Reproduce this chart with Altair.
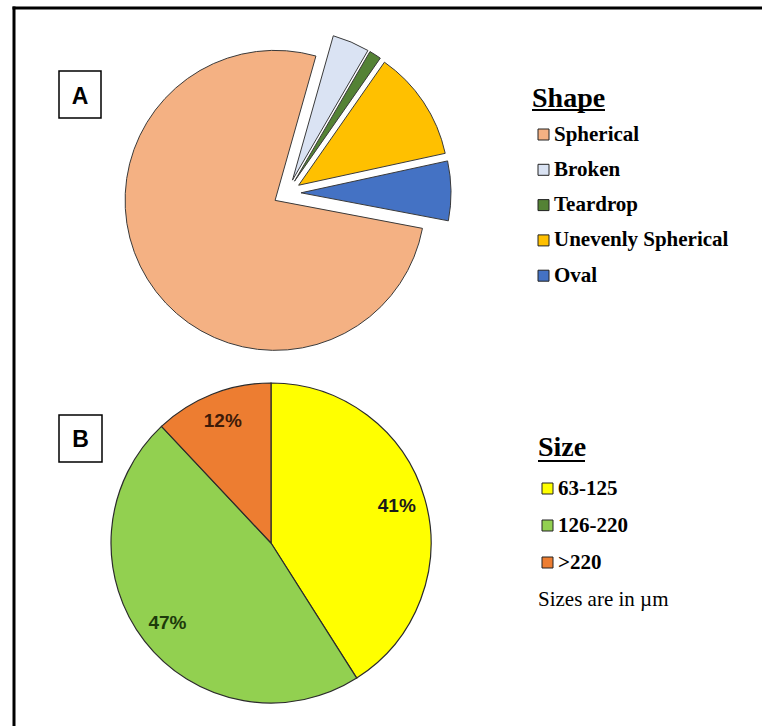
import math
import altair as alt
import pandas as pd

# ---- Data ----
shape_names = ["Broken", "Teardrop", "Unevenly Spherical", "Oval", "Spherical"]  # clockwise from the top
shape_pct = [4.0, 1.3, 11.9, 6.4, 76.4]
shape_legend_order = ["Spherical", "Broken", "Teardrop", "Unevenly Spherical", "Oval"]
shape_colors = ["#F4B183", "#DAE3F3", "#548235", "#FFC000", "#4472C4"]

size_names = ["63-125", "126-220", ">220"]
size_pct = [41, 47, 12]
size_labels = ["41%", "47%", "12%"]
size_colors = ["#FFFF00", "#92D050", "#ED7D31"]
size_text_colors = ["#1a1a1a", "#1d3a0b", "#3d1a08"]

shapes_df = pd.DataFrame({"shape": shape_names, "pct": shape_pct, "order": list(range(len(shape_names)))})
sizes_df = pd.DataFrame({"size": size_names, "pct": size_pct, "label": size_labels,
                         "order": list(range(len(size_names)))})

SERIF = "Liberation Serif"
SANS = "Liberation Sans"

A_CX, A_CY, A_R = 287, 193, 150
A_START = math.radians(15.8)
EXPLODE = 14
B_CX, B_CY, B_R = 271, 543, 160
B_LABEL_R = 131


def polar(chart, start):
    return (chart.transform_window(cum="sum(pct)", sort=[alt.SortField("order")], frame=[None, 0])
            .transform_joinaggregate(total="sum(pct)")
            .transform_calculate(t1=f"{start} + 2*PI*datum.cum/datum.total",
                                 t0=f"{start} + 2*PI*(datum.cum - datum.pct)/datum.total")
            .transform_calculate(mid="(datum.t0 + datum.t1)/2"))


# ---- Pie A (all slices pulled out from the centre) ----
pie_a = (polar(alt.Chart(shapes_df), A_START)
         .transform_calculate(cx=f"{A_CX} + {EXPLODE}*sin(datum.mid)",
                              cy=f"{A_CY} - {EXPLODE}*cos(datum.mid)")
         .mark_arc(radius=A_R, stroke="#3a3a3a", strokeWidth=1)
         .encode(theta=alt.Theta("t0:Q", scale=None, stack=False),
                 theta2="t1:Q",
                 x=alt.X("cx:Q", scale=None),
                 y=alt.Y("cy:Q", scale=None),
                 color=alt.Color("shape:N",
                                 scale=alt.Scale(domain=shape_legend_order, range=shape_colors),
                                 legend=alt.Legend(orient="none", legendX=533, legendY=124, title=None,
                                                   symbolType="square", symbolSize=121,
                                                   symbolStrokeColor="#222", symbolStrokeWidth=1,
                                                   labelFont=SERIF, labelFontSize=21, labelFontWeight="bold",
                                                   labelColor="black", labelOffset=0, rowPadding=13.3,
                                                   padding=0, labelLimit=400))))

# ---- Pie B ----
pie_b_base = polar(alt.Chart(sizes_df), 0)
pie_b = (pie_b_base
         .mark_arc(radius=B_R, stroke="#2b2b2b", strokeWidth=1.2)
         .encode(theta=alt.Theta("t0:Q", scale=None, stack=False),
                 theta2="t1:Q",
                 x=alt.value(B_CX), y=alt.value(B_CY),
                 color=alt.Color("size:N",
                                 scale=alt.Scale(domain=size_names, range=size_colors),
                                 legend=alt.Legend(orient="none", legendX=537, legendY=478, title=None,
                                                   symbolType="square", symbolSize=121,
                                                   symbolStrokeColor="#222", symbolStrokeWidth=1,
                                                   labelFont=SERIF, labelFontSize=21, labelFontWeight="bold",
                                                   labelColor="black", labelOffset=0, rowPadding=15,
                                                   padding=0))))

pie_b_text = (pie_b_base
              .transform_calculate(lx=f"{B_CX} + {B_LABEL_R}*sin(datum.mid)",
                                   ly=f"{B_CY} - {B_LABEL_R}*cos(datum.mid)")
              .mark_text(font=SANS, fontSize=19, fontWeight="bold", align="center", baseline="middle")
              .encode(x=alt.X("lx:Q", scale=None), y=alt.Y("ly:Q", scale=None), text="label:N",
                      color=alt.Color("size:N", scale=alt.Scale(domain=size_names, range=size_text_colors),
                                      legend=None)))

# ---- Decorations: frame, panel letters, legend titles ----
one = pd.DataFrame({"k": [0]})
frame_top = alt.Chart(one).mark_rule(color="black", strokeWidth=3).encode(
    x=alt.value(12.5), x2=alt.value(762), y=alt.value(8))
frame_left = alt.Chart(one).mark_rule(color="black", strokeWidth=3).encode(
    x=alt.value(14), y=alt.value(6.5), y2=alt.value(726))

box_a = alt.Chart(one).mark_rect(filled=False, stroke="black", strokeWidth=1.5).encode(
    x=alt.value(59), x2=alt.value(101), y=alt.value(71), y2=alt.value(118))
box_b = alt.Chart(one).mark_rect(filled=False, stroke="black", strokeWidth=1.5).encode(
    x=alt.value(59), x2=alt.value(102), y=alt.value(415), y2=alt.value(462))

letters_df = pd.DataFrame({"t": ["A", "B"], "x": [80, 80.5], "y": [103.5, 446.5]})
letters = alt.Chart(letters_df).mark_text(font=SANS, fontSize=23, fontWeight="bold", color="black",
                                          align="center", baseline="alphabetic").encode(
    x=alt.X("x:Q", scale=None), y=alt.Y("y:Q", scale=None), text="t:N")

titles_df = pd.DataFrame({"t": ["Shape", "Size"], "x": [532, 538], "y": [107, 456]})
titles = alt.Chart(titles_df).mark_text(font=SERIF, fontSize=28, fontWeight="bold", color="black",
                                        align="left", baseline="alphabetic").encode(
    x=alt.X("x:Q", scale=None), y=alt.Y("y:Q", scale=None), text="t:N")
ul_a = alt.Chart(one).mark_rule(color="black", strokeWidth=2).encode(
    x=alt.value(532), x2=alt.value(605), y=alt.value(110))
ul_b = alt.Chart(one).mark_rule(color="black", strokeWidth=2).encode(
    x=alt.value(538), x2=alt.value(585), y=alt.value(461))

note = alt.Chart(pd.DataFrame({"t": ["Sizes are in \u00b5m"]})).mark_text(
    font=SERIF, fontSize=21, color="black", align="left", baseline="alphabetic").encode(
    x=alt.value(538), y=alt.value(606), text="t:N")

chart = (alt.layer(frame_top, frame_left, pie_a, pie_b, pie_b_text, box_a, box_b, letters,
                   titles, ul_a, ul_b, note)
         .resolve_scale(color="independent")
         .properties(width=762, height=726, padding=0, autosize=alt.AutoSizeParams(type="none"),
                     background="white")
         .configure_view(strokeWidth=0))

chart.save("out.html", embed_options={"renderer": "svg", "actions": False})
